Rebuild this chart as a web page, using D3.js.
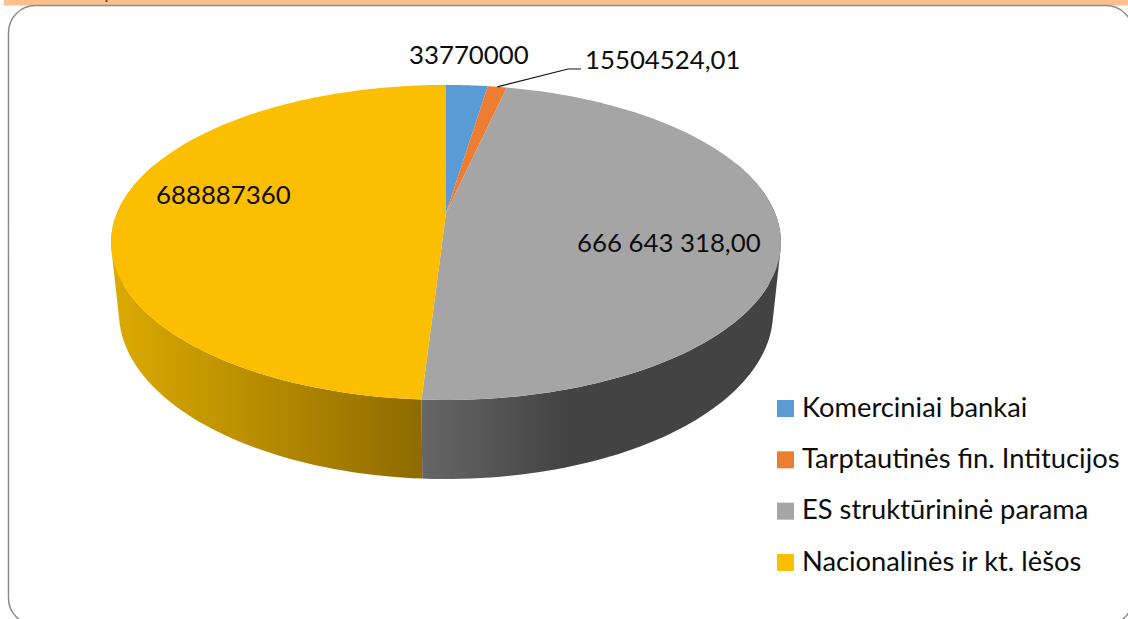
<!DOCTYPE html>
<html><head><meta charset="utf-8">
<script src="https://cdnjs.cloudflare.com/ajax/libs/d3/7.8.5/d3.min.js"></script>
<style>html,body{margin:0;padding:0;background:#fff;overflow:hidden}svg{display:block}text{font-family:Lato,"Noto Sans",sans-serif;fill:#0d0d0d}</style>
</head><body><svg id="c" width="1128" height="619"></svg>
<script>
const categories=["Komerciniai bankai","Tarptautinės fin. Intitucijos","ES struktūrininė parama","Nacionalinės ir kt. lėšos"];
const values=[33770000,15504524.01,666643318,688887360];
const valueLabels=["33770000","15504524,01","666 643 318,00","688887360"];
const colors=["#5b9bd5","#ed7d31","#a5a5a5","#fbbe00"];
const wallStops=[["#4a7ca8","#3f6a90"],["#b8622a","#a55722"],["#666666","#3c3c3c"],["#dcaa00","#8f6b00"]];

const svg=d3.select("#c");
svg.append("rect").attr("x",4).attr("y",0).attr("width",1124).attr("height",5.5).attr("fill","#fcc08d");
svg.append("rect").attr("x",105.5).attr("y",0).attr("width",2).attr("height",2).attr("fill","#555");
svg.append("rect").attr("x",8.5).attr("y",5.5).attr("width",1124.5).attr("height",619.5).attr("rx",27).attr("fill","#fff").attr("stroke","#8c8c8c").attr("stroke-width",1.5);

// perspective projection of the pie disc
const cam={cx:446,cy:213,R:329,H:152,p:0.187,q:0.023,G:70.4};
function proj(theta,z){ // z=0 top face, z=1 bottom face
  const u=Math.sin(theta),v=Math.cos(theta),w=1+cam.p*v+cam.q*z;
  return [cam.cx+cam.R*u/w, cam.cy+(z*cam.G-cam.H*v)/w];
}
const pie=d3.pie().sort(null)(values);
const arcSteps=(a,b)=>d3.range(0,121).map(i=>a+(b-a)*i/120);
const line=d3.line();
const defs=svg.append("defs");

// walls: a union of small quads, so that the straight silhouette edge at each side is filled
pie.forEach((s,i)=>{
  const front=arcSteps(s.startAngle,s.endAngle).filter(t=>Math.cos(t)<0.35);
  if(front.length<2) return;
  const id="w"+i;
  const g=defs.append("linearGradient").attr("id",id).attr("gradientUnits","userSpaceOnUse");
  const xs=front.map(t=>proj(t,0)[0]);
  g.attr("x1",d3.min(xs)).attr("x2",d3.max(xs)).attr("y1",0).attr("y2",0);
  if(i===2){
    g.append("stop").attr("offset",0).attr("stop-color",wallStops[i][0]);
    g.append("stop").attr("offset",0.4).attr("stop-color","#434343");
    g.append("stop").attr("offset",1).attr("stop-color","#434343");
  } else {
    g.append("stop").attr("offset",0).attr("stop-color",wallStops[i][0]);
    g.append("stop").attr("offset",1).attr("stop-color",wallStops[i][1]);
  }
  let d="";
  front.slice(1).forEach((t,k)=>{
    const t0=front[k];
    let q=[proj(t0,0),proj(t,0),proj(t,1),proj(t0,1)];
    if(d3.polygonArea(q)<0) q=q.reverse();
    d+=line(q)+"Z";
  });
  svg.append("path").attr("d",d).attr("fill",`url(#${id})`);
});
// top face
pie.forEach((s,i)=>{
  const poly=[[cam.cx,cam.cy]].concat(arcSteps(s.startAngle,s.endAngle).map(t=>proj(t,0)));
  svg.append("path").attr("d",line(poly)+"Z").attr("fill",colors[i]);
});
// leader
svg.append("path").attr("d",line([proj((pie[1].startAngle+pie[1].endAngle)/2,0),[568,69],[581,69]])).attr("fill","none").attr("stroke","#111").attr("stroke-width",1.2);
// value labels
const labelFs=25.8;
const labelPos=[[409,64],[585,69],[577,252],[156,204]];
valueLabels.forEach((t,i)=>svg.append("text").attr("x",labelPos[i][0]).attr("y",labelPos[i][1]).attr("font-size",labelFs).text(t));
// legend
const legendY=d3.scalePoint().domain(categories).range([408.5,562.5]);
categories.forEach((c,i)=>{
  const y=legendY(c);
  svg.append("rect").attr("x",777).attr("y",y-8.5).attr("width",17).attr("height",17).attr("fill",colors[i]);
  svg.append("text").attr("x",802).attr("y",y+8).attr("font-size",27.3).text(c);
});
</script></body></html>
